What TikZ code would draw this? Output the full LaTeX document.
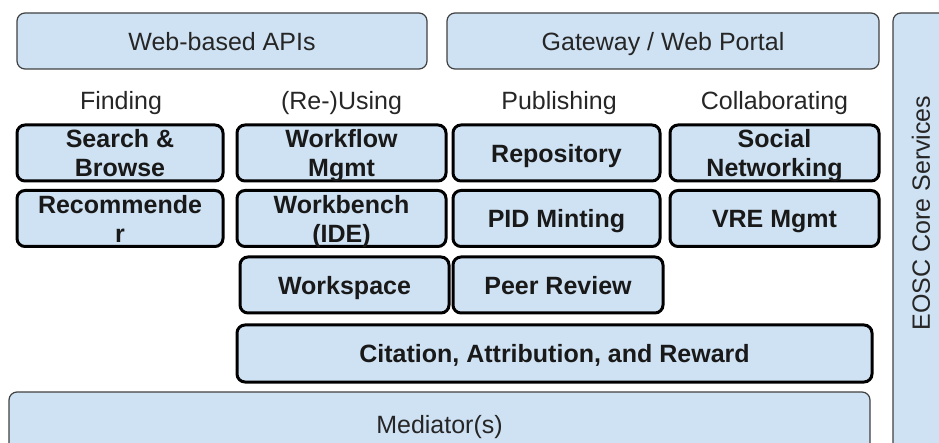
\documentclass[tikz,border=0pt]{standalone}
\usepackage{fontspec}
\setmainfont{Liberation Sans}
\definecolor{boxblue}{HTML}{CFE2F3}
\tikzset{
	layerbox/.style={draw=black!75, line width=1.2pt, fill=boxblue, rounded corners=8pt,
		inner sep=0pt, text depth=0pt, text=black!85, font=\fontsize{25}{29}\selectfont},
	servicebox/.style={draw=black, line width=3pt, fill=boxblue, rounded corners=8pt,
		inner sep=0pt, text depth=0pt, align=center, minimum height=56pt, text=black!90,
		font=\bfseries\fontsize{25}{29}\selectfont},
	colhead/.style={anchor=base, text=black!85, font=\fontsize{25}{29}\selectfont}
}

\begin{document}
\begin{tikzpicture}[x=1pt,y=-1pt]
	\useasboundingbox (0,0) rectangle (939,443);
	\clip (0,0) rectangle (939,443);
	
	% outer layers
	\begin{scope}
		\node[layerbox, minimum width=410pt, minimum height=56pt] (web) at (222,41) {Web-based APIs};
		\node[layerbox, minimum width=432pt, minimum height=56pt] (portal) at (663,41) {Gateway / Web Portal};
		\node[layerbox, minimum width=861pt, minimum height=64pt] (mediator) at (439.5,424) {Mediator(s)};
		\draw[layerbox] (893,13) rectangle (990,470);
		\node[rotate=90, text=black!85, font=\fontsize{25}{29}\selectfont] (eosc) at (921,213) {EOSC Core Services};
	\end{scope}
	
	% column headings
	\node[colhead] (finding) at (121,110) {Finding};
	\node[colhead] (reusing) at (341.5,110) {(Re-)Using};
	\node[colhead] (publishing) at (559,110) {Publishing};
	\node[colhead] (collab) at (774.5,110) {Collaborating};
	
	% services
	\begin{scope}
		\node[servicebox, minimum width=206pt] (search) at (120,153) {Search \&\\Browse};
		\node[servicebox, minimum width=209pt] (workflow) at (341.5,153) {Workflow\\Mgmt};
		\node[servicebox, minimum width=207pt] (repo) at (556.5,153) {Repository};
		\node[servicebox, minimum width=209pt] (social) at (774.5,153) {Social\\Networking};
		
		\node[servicebox, minimum width=206pt] (recommender) at (120,218.5) {Recommende\\r};
		\node[servicebox, minimum width=209pt] (workbench) at (341.5,218.5) {Workbench\\(IDE)};
		\node[servicebox, minimum width=207pt] (pid) at (556.5,218.5) {PID Minting};
		\node[servicebox, minimum width=209pt] (vre) at (774.5,218.5) {VRE Mgmt};
		
		\node[servicebox, minimum width=209pt] (workspace) at (344.5,285) {Workspace};
		\node[servicebox, minimum width=210pt] (review) at (558,285) {Peer Review};
		
		\node[servicebox, minimum width=635pt, minimum height=57pt] (citation) at (554.5,353.5) {Citation, Attribution, and Reward};
	\end{scope}
\end{tikzpicture}
\end{document}
